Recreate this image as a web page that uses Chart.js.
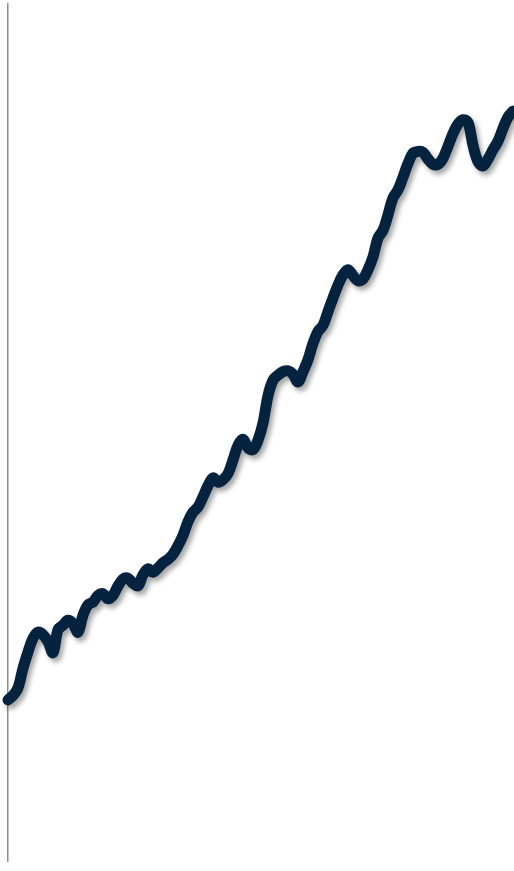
<!DOCTYPE html>
<html>
<head>
<meta charset="utf-8">
<script src="https://cdn.jsdelivr.net/npm/chart.js@4/dist/chart.umd.min.js"></script>
<style>
  html, body { margin: 0; padding: 0; background: #fff; }
  #wrap { width: 514px; height: 871px; }
</style>
</head>
<body>
<div id="wrap"><canvas id="lineChart"></canvas></div>
<script>
// series, one value per period
const values = [
  18.8, 19.3, 20.2, 22.5, 24.4, 26.0, 26.7, 26.4, 25.6, 24.3,
  27.0, 27.5, 28.1, 27.7, 26.7, 28.7, 29.9, 30.2, 31.0, 31.2,
  30.6, 31.0, 32.1, 32.9, 33.0, 32.4, 32.1, 33.4, 34.1, 33.7,
  34.2, 34.8, 35.2, 35.8, 36.8, 38.0, 39.6, 40.7, 41.3, 42.5,
  43.8, 44.7, 44.2, 44.5, 45.2, 46.8, 48.5, 49.2, 48.2, 48.0,
  49.1, 51.1, 54.3, 56.1, 56.7, 57.1, 57.2, 56.8, 55.9, 57.1,
  58.5, 60.4, 61.8, 62.5, 64.1, 65.7, 67.2, 68.4, 69.0, 68.3,
  67.7, 67.9, 69.0, 70.5, 72.7, 73.6, 75.4, 77.4, 78.3, 79.8,
  81.4, 82.6, 82.8, 82.7, 81.9, 81.3, 81.3, 82.0, 83.4, 84.9,
  86.0, 86.5, 86.2, 83.5, 81.6, 81.1, 81.9, 83.0, 84.0, 85.5,
  86.8, 87.5
];
const periods = values.map((v, i) => String(i + 1));
const yMin = 0;
const yMax = 100;

// soft drop shadow under the line
const shadow = {
  id: 'shadow',
  beforeDatasetsDraw(chart) {
    const ctx = chart.ctx;
    ctx.save();
    ctx.shadowColor = 'rgba(0, 0, 0, 0.35)';
    ctx.shadowBlur = 5;
    ctx.shadowOffsetX = 3;
    ctx.shadowOffsetY = 4;
  },
  afterDatasetsDraw(chart) {
    chart.ctx.restore();
  }
};

new Chart(document.getElementById('lineChart').getContext('2d'), {
  type: 'line',
  data: {
    labels: periods,
    datasets: [{
      data: values,
      borderColor: '#05223f',
      borderWidth: 11,
      borderCapStyle: 'round',
      borderJoinStyle: 'round',
      pointRadius: 0,
      tension: 0.35,
      fill: false,
      clip: false
    }]
  },
  options: {
    responsive: true,
    maintainAspectRatio: false,
    animation: false,
    layout: { padding: { left: 8, top: 4, right: 1, bottom: 10 } },
    plugins: { legend: { display: false }, tooltip: { enabled: false } },
    scales: {
      x: { display: false },
      y: {
        min: yMin,
        max: yMax,
        afterFit: s => { s.width = 0; },
        ticks: { display: false },
        grid: { display: false },
        border: { display: true, color: '#8c8c8c', width: 1.5 }
      }
    }
  },
  plugins: [shadow]
});
</script>
</body>
</html>
